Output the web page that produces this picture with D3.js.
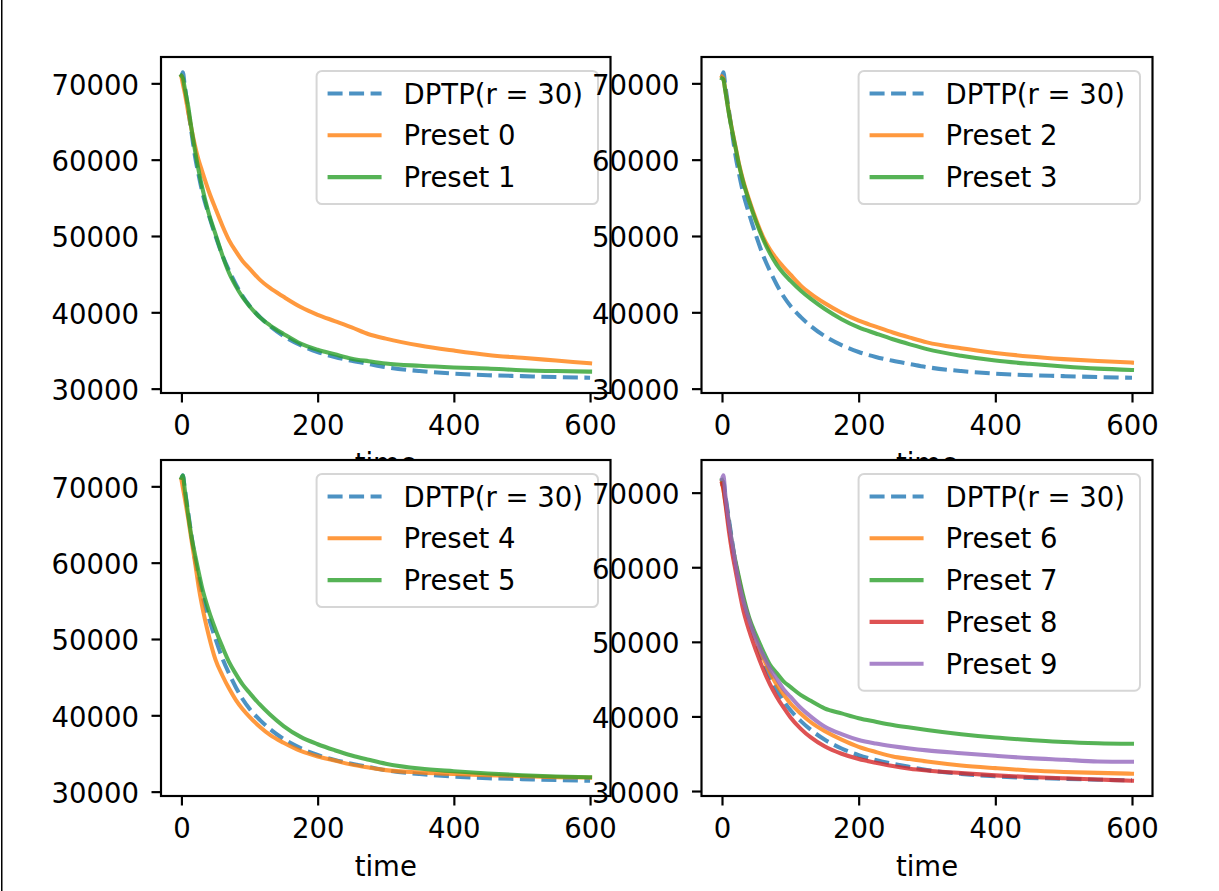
<!DOCTYPE html>
<html><head><meta charset="utf-8">
<script src="https://cdn.jsdelivr.net/npm/d3@7"></script>
<style>body{margin:0;background:#fff} svg{display:block} text{font-family:"DejaVu Sans",sans-serif;}</style>
</head><body><svg id="chart" width="1219" height="891"></svg>
<script>
// ---- data ----
const TIME = [0, 2, 5, 10, 15, 20, 25, 30, 40, 50, 60, 70, 80, 90, 100, 115, 130, 150, 175, 200, 225, 250, 275, 300, 350, 400, 450, 500, 550, 600];
const DPTP    = [70900, 71450, 69600, 66500, 63400, 60400, 58100, 56000, 52800, 50000, 47500, 45450, 43650, 42100, 40850, 39400, 38200, 36900, 35700, 34800, 34150, 33650, 33230, 32820, 32300, 31970, 31760, 31640, 31520, 31430];
const PRESET0 = [70870, 69950, 68700, 66200, 63900, 61800, 60000, 58600, 55900, 53580, 51380, 49430, 47970, 46700, 45730, 44280, 43190, 42030, 40700, 39680, 38850, 38020, 37120, 36550, 35650, 34990, 34420, 34040, 33680, 33320];
const PRESET1 = [71000, 70700, 69300, 66950, 63900, 61160, 58710, 56550, 53000, 50250, 47500, 45150, 43400, 41950, 40800, 39350, 38300, 37170, 35900, 35090, 34500, 33930, 33590, 33290, 32990, 32780, 32630, 32420, 32300, 32230];
const PRESET2 = [70870, 70600, 69000, 66200, 63800, 61600, 59400, 57600, 54650, 52100, 49900, 48250, 47000, 45940, 44960, 43530, 42430, 41220, 39950, 38900, 38120, 37350, 36680, 36060, 35280, 34680, 34210, 33870, 33610, 33410];
const PRESET3 = [70650, 70500, 68900, 66100, 63700, 61480, 59250, 57400, 54450, 51850, 49600, 47750, 46250, 45100, 44150, 42850, 41750, 40460, 39100, 38020, 37230, 36470, 35800, 35180, 34310, 33680, 33250, 32900, 32620, 32450];
const PRESET4 = [70870, 69870, 68400, 65750, 62800, 60000, 57000, 54500, 50500, 47300, 45250, 43500, 42000, 40800, 39800, 38500, 37430, 36400, 35330, 34610, 34070, 33540, 33160, 32820, 32510, 32300, 32160, 32030, 31900, 31840];
const PRESET5 = [71100, 71400, 69500, 66220, 63280, 61030, 58880, 56850, 53750, 51230, 49000, 46960, 45400, 44020, 42950, 41420, 40100, 38590, 37170, 36210, 35430, 34740, 34180, 33660, 33020, 32670, 32370, 32150, 31980, 31880];
const PRESET6 = [71470, 70400, 68700, 65700, 62800, 60440, 58300, 56200, 52900, 50200, 47900, 45950, 44250, 42930, 41760, 40390, 39220, 38040, 36890, 35930, 35240, 34630, 34280, 33950, 33430, 33070, 32760, 32560, 32430, 32320];
const PRESET7 = [71700, 71100, 69100, 66000, 63000, 60700, 58600, 56570, 53170, 50880, 48800, 46960, 45810, 44700, 43960, 42880, 42090, 41090, 40410, 39750, 39290, 38860, 38510, 38180, 37610, 37170, 36850, 36560, 36400, 36330];
const PRESET8 = [71250, 70500, 68500, 64900, 61900, 59450, 57000, 54700, 51420, 48760, 46380, 44350, 42650, 41200, 39900, 38370, 37180, 36000, 35000, 34300, 33800, 33350, 33000, 32750, 32400, 32100, 31880, 31700, 31540, 31380];
const PRESET9 = [71800, 72330, 69600, 66050, 63150, 60400, 57900, 55950, 52850, 50250, 48280, 46470, 45050, 43650, 42650, 41160, 39980, 38650, 37620, 36840, 36360, 36000, 35700, 35450, 35070, 34720, 34410, 34190, 33970, 33920];

const X_TICKS = [0, 200, 400, 600];
const Y_TICKS = [30000, 40000, 50000, 60000, 70000];
const X_LABEL = "time";
const DPTP_LABEL = "DPTP(r = 30)";
const PANEL_SERIES = [
  [["Preset 0", PRESET0], ["Preset 1", PRESET1]],
  [["Preset 2", PRESET2], ["Preset 3", PRESET3]],
  [["Preset 4", PRESET4], ["Preset 5", PRESET5]],
  [["Preset 6", PRESET6], ["Preset 7", PRESET7], ["Preset 8", PRESET8], ["Preset 9", PRESET9]]
];
const COLORS = ["#1f77b4", "#ff7f0e", "#2ca02c", "#d62728", "#9467bd"];

// ---- layout ----
const W = 1219, H = 891;
const FS = 27.5;
const LW = 4.06, SPINE = 2.17, TICK = 9.5, PAD = 12.5;
const COLS = [[161, 610.5], [701.5, 1152.5]];
const ROWS = [[57, 393], [460, 796]];

const svg = d3.select("#chart");
svg.append("rect").attr("width", W).attr("height", H).attr("fill", "#fff");
svg.append("rect").attr("x", 1).attr("y", 0).attr("width", 1.5).attr("height", H).attr("fill", "#000");

PANEL_SERIES.forEach((presets, pi) => {
  const [x0, x1] = COLS[pi % 2];
  const [y0, y1] = ROWS[Math.floor(pi / 2)];
  const series = [[DPTP_LABEL, DPTP]].concat(presets);

  const xMin = d3.min(TIME), xMax = d3.max(TIME);
  const xm = (xMax - xMin) * 0.05;
  const x = d3.scaleLinear().domain([xMin - xm, xMax + xm]).range([x0, x1]);
  const all = series.flatMap(s => s[1]);
  const yMin = d3.min(all), yMax = d3.max(all);
  const ym = (yMax - yMin) * 0.05;
  const y = d3.scaleLinear().domain([yMin - ym, yMax + ym]).range([y1, y0]);

  const g = svg.append("g");
  g.append("rect").attr("x", x0).attr("y", y0).attr("width", x1 - x0).attr("height", y1 - y0).attr("fill", "#fff");

  const clipId = "clip" + pi;
  g.append("clipPath").attr("id", clipId).append("rect")
    .attr("x", x0).attr("y", y0).attr("width", x1 - x0).attr("height", y1 - y0);

  const line = d3.line().x((d, i) => x(TIME[i])).y(d => y(d)).curve(d3.curveMonotoneX);
  const lg = g.append("g").attr("clip-path", `url(#${clipId})`);
  series.forEach((s, si) => {
    lg.append("path").datum(s[1]).attr("d", line)
      .attr("fill", "none").attr("stroke", COLORS[si]).attr("stroke-opacity", 0.8)
      .attr("stroke-width", LW).attr("stroke-linejoin", "round")
      .attr("stroke-linecap", si === 0 ? "butt" : "square")
      .attr("stroke-dasharray", si === 0 ? "15,6.5" : null);
  });

  // spines
  g.append("rect").attr("x", x0).attr("y", y0).attr("width", x1 - x0).attr("height", y1 - y0)
    .attr("fill", "none").attr("stroke", "#000").attr("stroke-width", SPINE);

  // axes
  const ax = g.append("g").attr("transform", `translate(0,${y1})`)
    .call(d3.axisBottom(x).tickValues(X_TICKS).tickFormat(d3.format("d")).tickSize(TICK).tickPadding(PAD));
  const ay = g.append("g").attr("transform", `translate(${x0},0)`)
    .call(d3.axisLeft(y).tickValues(Y_TICKS).tickFormat(d3.format("d")).tickSize(TICK).tickPadding(PAD));
  [ax, ay].forEach(a => {
    a.select(".domain").remove();
    a.selectAll(".tick line").attr("stroke", "#000").attr("stroke-width", SPINE);
    a.selectAll(".tick text").attr("fill", "#000").attr("font-size", FS).attr("font-family", "DejaVu Sans");
  });
  ay.selectAll(".tick text").attr("dy", "0.4em");

  g.append("text").attr("x", (x0 + x1) / 2).attr("y", y1 + 80)
    .attr("text-anchor", "middle").attr("font-size", FS).attr("fill", "#000").text(X_LABEL);

  // legend
  const leg = g.append("g");
  const frame = leg.append("rect");
  const texts = [];
  series.forEach((s, si) => {
    const t = leg.append("text").attr("font-size", FS).attr("fill", "#000").text(s[0]);
    texts.push(t);
  });
  const maxW = d3.max(texts, t => t.node().getComputedTextLength());
  const lw = maxW + 102;
  const right = x1 - 12.5, top = y0 + 14;
  const left = right - lw;
  const n = series.length;
  const lh = 22.5 + (n - 1) * 41.8 + 27;
  frame.attr("x", left).attr("y", top).attr("width", lw).attr("height", lh)
    .attr("rx", 5.4).attr("ry", 5.4)
    .attr("fill", "#fff").attr("fill-opacity", 0.8)
    .attr("stroke", "#ccc").attr("stroke-opacity", 0.8).attr("stroke-width", 2);
  series.forEach((s, si) => {
    const ly = top + 22.5 + si * 41.8;
    leg.append("line").attr("x1", left + 11).attr("x2", left + 65).attr("y1", ly).attr("y2", ly)
      .attr("stroke", COLORS[si]).attr("stroke-opacity", 0.8).attr("stroke-width", LW)
      .attr("stroke-dasharray", si === 0 ? "15,6.5" : null);
    texts[si].attr("x", left + 87).attr("y", ly + 10);
  });
});
</script></body></html>
